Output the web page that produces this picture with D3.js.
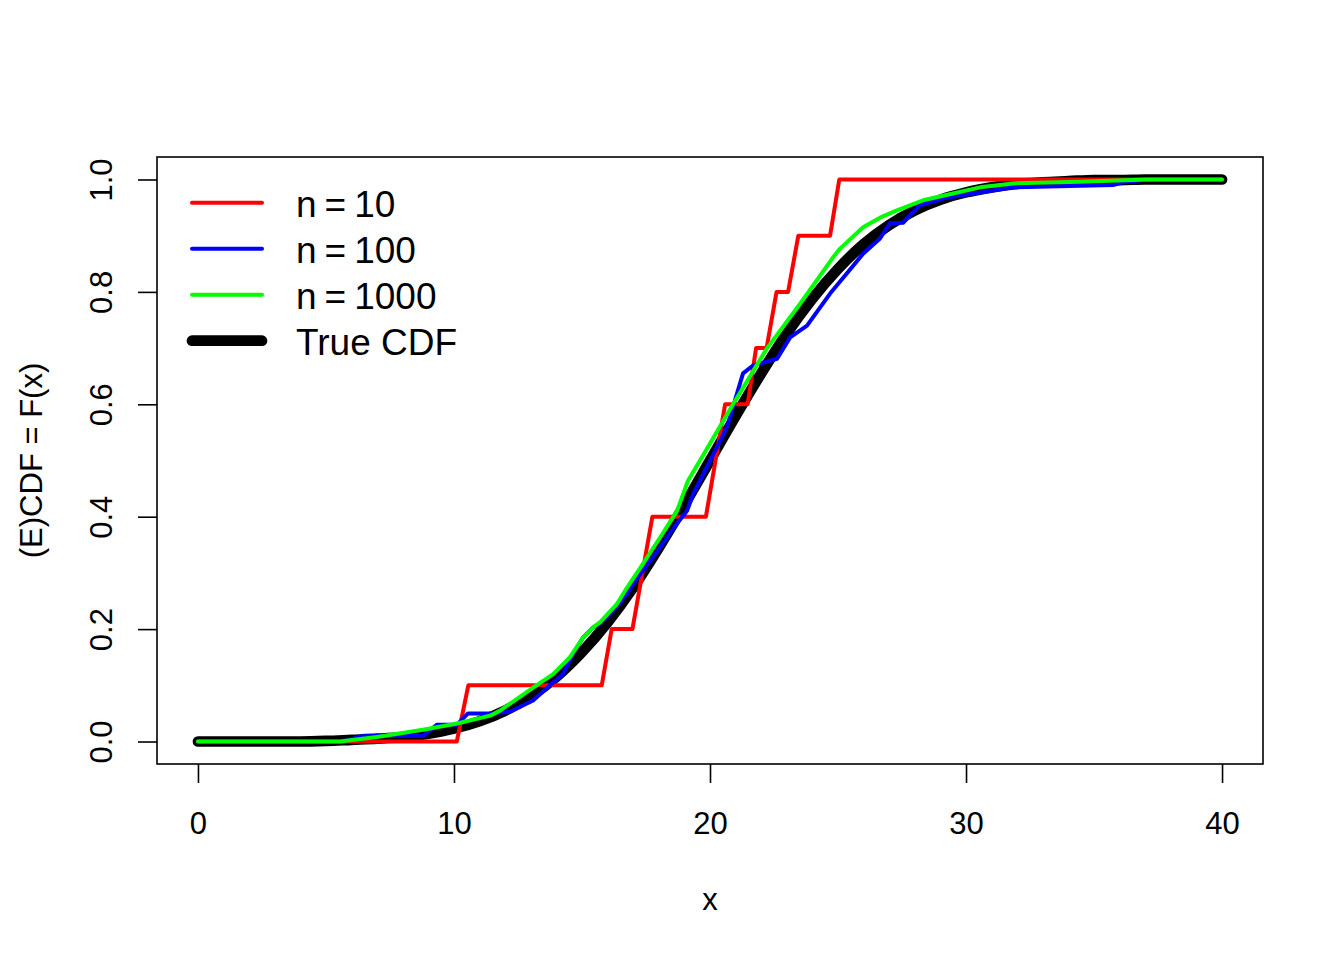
<!DOCTYPE html>
<html>
<head>
<meta charset="utf-8">
<script src="https://cdn.jsdelivr.net/npm/d3@7"></script>
<style>
  body { margin: 0; background: #fff; }
  text { font-family: "Liberation Sans", Arial, sans-serif; fill: #000; }
</style>
</head>
<body>
<svg id="chart" width="1344" height="960"></svg>
<script>
// true CDF, read at x = 0..40
const trueX = d3.range(0, 41);
const trueY = [0, 0, 0, 0, 0, 0.001, 0.003, 0.005, 0.008, 0.014, 0.023, 0.036, 0.055, 0.081,
  0.115, 0.159, 0.212, 0.274, 0.345, 0.421, 0.5, 0.579, 0.655, 0.726, 0.788, 0.841, 0.885,
  0.919, 0.945, 0.964, 0.977, 0.986, 0.992, 0.995, 0.997, 0.999, 0.999, 1, 1, 1, 1];

// ECDF n = 10 (evaluated on a grid, drawn as a line)
const redX = [0, 10.11, 10.56, 15.77, 16.16, 16.97, 17.75, 19.84, 20.59, 21.47, 21.8, 22.21,
  22.6, 23.05, 23.45, 24.69, 25.05, 40];
const redY = [0, 0, 0.1, 0.1, 0.2, 0.2, 0.4, 0.4, 0.6, 0.6, 0.7, 0.7, 0.8, 0.8, 0.9, 0.9, 1, 1];

// ECDF n = 100
const blueX = [0, 5.66, 6.45, 8.79, 9.34, 10.12, 10.55, 11.41, 12.19, 13.09, 13.75, 14.26, 14.65,
  15.04, 15.43, 15.7, 16.09, 16.37, 16.76, 16.99, 17.38, 18.05, 18.71, 19.1, 19.34, 19.61,
  20.66, 21.29, 21.68, 22.62, 23.13, 23.79, 24.69, 25.35, 25.98, 26.64, 27.03, 27.54, 28.2,
  29.26, 30.55, 31.84, 35.74, 36.13, 37.07, 40];
const blueY = [0, 0, 0.01, 0.01, 0.03, 0.03, 0.05, 0.05, 0.053, 0.073, 0.1, 0.12, 0.156,
  0.185, 0.203, 0.21, 0.227, 0.24, 0.263, 0.28, 0.304, 0.345, 0.388, 0.41, 0.44, 0.464,
  0.559, 0.655, 0.669, 0.681, 0.719, 0.74, 0.797, 0.833, 0.868, 0.895, 0.922, 0.923, 0.954,
  0.968, 0.977, 0.986, 0.99, 0.995, 1, 1];

// ECDF n = 1000
const greenX = [0, 5.55, 6.99, 8.79, 10.12, 11.41, 11.8, 13.09, 13.87, 14.53, 15.04, 15.43, 15.7,
  16.37, 16.76, 17.38, 18.05, 18.71, 19.14, 19.61, 20.9, 22.23, 23.52, 24.8, 25.08, 25.98,
  26.64, 27.3, 28.32, 29.49, 30.55, 31.84, 34.45, 37.07, 40];
const greenY = [0, 0, 0.008, 0.021, 0.032, 0.046, 0.055, 0.096, 0.12, 0.15, 0.185, 0.203, 0.212,
  0.245, 0.274, 0.316, 0.363, 0.41, 0.464, 0.5, 0.6, 0.7, 0.779, 0.861, 0.877, 0.915,
  0.932, 0.945, 0.963, 0.975, 0.986, 0.993, 0.996, 1, 1];

const xTicks = [0, 10, 20, 30, 40];
const yTicks = [0, 0.2, 0.4, 0.6, 0.8, 1.0];
const legendLabels = [["n", "10"], ["n", "100"], ["n", "1000"], ["True CDF"]];
const legendColors = ["#ff0000", "#0000ff", "#00ff00", "#000000"];
const legendWidths = [4, 4, 4, 10.7];

const svg = d3.select("#chart");
const plotL = 157, plotR = 1263, plotT = 157, plotB = 764;

const x = d3.scaleLinear().domain([-1.6, 41.6]).range([plotL, plotR]);
const y = d3.scaleLinear().domain([-0.04, 1.04]).range([plotB, plotT]);

function drawLine(xs, ys, color, width, curve) {
  const line = d3.line()
    .x(i => x(xs[i]))
    .y(i => y(ys[i]))
    .curve(curve || d3.curveLinear);
  svg.append("path")
    .attr("d", line(d3.range(xs.length)))
    .attr("fill", "none")
    .attr("stroke", color)
    .attr("stroke-width", width)
    .attr("stroke-linecap", "round")
    .attr("stroke-linejoin", "round");
}

drawLine(trueX, trueY, "#000000", 10.7, d3.curveMonotoneX);
drawLine(redX, redY, "#ff0000", 4);
drawLine(blueX, blueY, "#0000ff", 4);
drawLine(greenX, greenY, "#00ff00", 4);

// box
svg.append("rect")
  .attr("x", plotL).attr("y", plotT)
  .attr("width", plotR - plotL).attr("height", plotB - plotT)
  .attr("fill", "none").attr("stroke", "#000").attr("stroke-width", 1.6);

// x axis
const gx = svg.append("g")
  .attr("transform", `translate(0,${plotB})`)
  .call(d3.axisBottom(x).tickValues(xTicks).tickSize(19).tickSizeOuter(0).tickFormat(d3.format("d")));
gx.select(".domain").remove();
gx.selectAll(".tick line").attr("stroke", "#000").attr("stroke-width", 1.6);
gx.selectAll(".tick text")
  .attr("y", 70).attr("dy", 0)
  .style("font-size", "31px")
  .style("font-family", "'Liberation Sans', Arial, sans-serif");

// y axis
const gy = svg.append("g")
  .attr("transform", `translate(${plotL},0)`)
  .call(d3.axisLeft(y).tickValues(yTicks).tickSize(19).tickSizeOuter(0).tickFormat(d3.format(".1f")));
gy.select(".domain").remove();
gy.selectAll(".tick line").attr("stroke", "#000").attr("stroke-width", 1.6);
gy.selectAll(".tick text")
  .attr("x", 0).attr("dy", 0)
  .attr("text-anchor", "middle")
  .attr("transform", "translate(-45,0) rotate(-90)")
  .style("font-size", "31px")
  .style("font-family", "'Liberation Sans', Arial, sans-serif");

// axis titles
svg.append("text")
  .attr("x", (plotL + plotR) / 2).attr("y", 910)
  .attr("text-anchor", "middle")
  .style("font-size", "31px")
  .text("x");

svg.append("text")
  .attr("transform", `translate(42,${(plotT + plotB) / 2}) rotate(-90)`)
  .attr("text-anchor", "middle")
  .style("font-size", "31px")
  .text("(E)CDF = F(x)");

// legend
const leg = svg.append("g");
legendLabels.forEach((lab, i) => {
  const cy = 202.7 + i * 46;
  leg.append("line")
    .attr("x1", 192).attr("x2", 262)
    .attr("y1", cy).attr("y2", cy)
    .attr("stroke", legendColors[i])
    .attr("stroke-width", legendWidths[i])
    .attr("stroke-linecap", "round");
  const t = leg.append("text")
    .attr("x", 296).attr("y", cy + 14.5)
    .style("font-size", "37px");
  if (lab.length === 2) {
    t.append("tspan").text(lab[0]);
    t.append("tspan").attr("dx", 8).text("=");
    t.append("tspan").attr("dx", 8).text(lab[1]);
  } else {
    t.text(lab[0]);
  }
});
</script>
</body>
</html>
